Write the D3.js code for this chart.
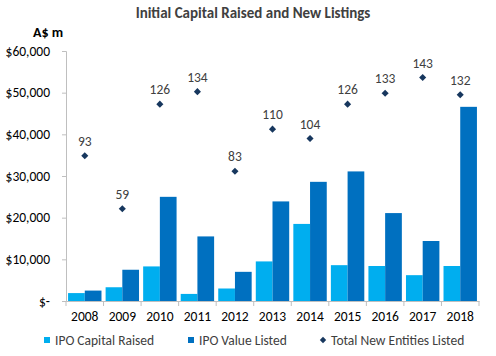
<!DOCTYPE html>
<html><head><meta charset="utf-8">
<script src="https://cdn.jsdelivr.net/npm/d3@7"></script>
<style>body{margin:0;background:#fff}svg{display:block;font-family:Carlito,"Open Sans",sans-serif}</style>
</head><body><svg id="c" width="496" height="356"></svg>
<script>
const years = ["2008","2009","2010","2011","2012","2013","2014","2015","2016","2017","2018"];
const capitalRaised = [1900,3300,8300,1700,3000,9500,18500,8600,8400,6200,8400];
const valueListed = [2500,7500,25000,15500,7000,23900,28600,31100,21100,14400,46600];
const newEntities = [93,59,126,134,83,110,104,126,133,143,132];
const yTicks = [0,10000,20000,30000,40000,50000,60000];

const svg = d3.select("#c");
const L = 66, R = 479, T = 51, B = 301;
const x = d3.scaleBand().domain(years).range([L, R]).paddingInner(0).paddingOuter(0);
const inner = d3.scaleBand().domain([0,1]).range([0, x.bandwidth()]).paddingInner(0.0).paddingOuter(0.06);
const y = d3.scaleLinear().domain([0,60000]).range([B, T]);
const y2 = d3.scaleLinear().domain([0,160]).range([B, T]);
const light = "#00AEEF", dark = "#0070C0", navy = "#17375E", txt = "#404040", axisC = "#BFBFBF";
const FF = "Carlito,'Open Sans',sans-serif";

svg.append("text").attr("x", 253).attr("y", 18).attr("text-anchor","middle")
  .attr("font-size", 15).attr("font-weight","bold").attr("fill", txt)
  .text("Initial Capital Raised and New Listings");
svg.append("text").attr("x", 48).attr("y", 37).attr("text-anchor","middle")
  .attr("font-size", 14).attr("font-weight","bold").attr("fill", "#000").text("A$ m");

// y axis
const ya = svg.append("g").attr("transform", `translate(${L},0)`)
  .call(d3.axisLeft(y).tickValues(yTicks).tickSize(4).tickPadding(12)
    .tickFormat(d => d === 0 ? "$-  " : "$" + d3.format(",")(d)));
ya.select(".domain").attr("stroke", axisC);
ya.selectAll(".tick line").attr("stroke", axisC);
ya.selectAll(".tick text").attr("font-size", 13.5).attr("fill", "#000").attr("font-family", FF);

// bars
const g = svg.append("g");
years.forEach((yr, i) => {
  g.append("rect").attr("x", x(yr) + inner(0) + 1).attr("width", inner.bandwidth() - 1)
    .attr("y", y(capitalRaised[i])).attr("height", B - y(capitalRaised[i])).attr("fill", light);
  g.append("rect").attr("x", x(yr) + inner(1)).attr("width", inner.bandwidth() - 1)
    .attr("y", y(valueListed[i])).attr("height", B - y(valueListed[i])).attr("fill", dark);
});

// x axis
const xa = svg.append("g").attr("transform", `translate(0,${B})`)
  .call(d3.axisBottom(x).tickSize(0).tickPadding(10));
xa.select(".domain").attr("stroke", axisC);
xa.selectAll(".tick text").attr("font-size", 13.5).attr("fill", "#000").attr("font-family", FF);
const bounds = years.map(d => x(d)).concat([R]);
xa.selectAll(".bnd").data(bounds).enter().append("line")
  .attr("x1", d => d).attr("x2", d => d).attr("y1", 0).attr("y2", 5).attr("stroke", axisC);

// diamonds
const diamond = d3.symbol().type(d3.symbolDiamond2).size(32);
years.forEach((yr, i) => {
  const cx = x(yr) + x.bandwidth()/2, cy = y2(newEntities[i]);
  svg.append("path").attr("d", diamond).attr("transform", `translate(${cx},${cy})`).attr("fill", navy);
  svg.append("text").attr("x", cx).attr("y", cy - 10).attr("text-anchor","middle")
    .attr("font-size", 13.5).attr("fill", txt).text(newEntities[i]);
});

// legend
const lg = svg.append("g").attr("font-size", 13.5).attr("fill", txt);
lg.append("rect").attr("x", 44).attr("y", 337).attr("width", 6).attr("height", 6).attr("fill", light);
lg.append("text").attr("x", 55).attr("y", 344.5).text("IPO Capital Raised");
lg.append("rect").attr("x", 188).attr("y", 337).attr("width", 6).attr("height", 6).attr("fill", dark);
lg.append("text").attr("x", 199).attr("y", 344.5).text("IPO Value Listed");
lg.append("path").attr("d", d3.symbol().type(d3.symbolDiamond2).size(26)).attr("transform","translate(323,340)").attr("fill", navy);
lg.append("text").attr("x", 331).attr("y", 344.5).text("Total New Entities Listed");
</script></body></html>
